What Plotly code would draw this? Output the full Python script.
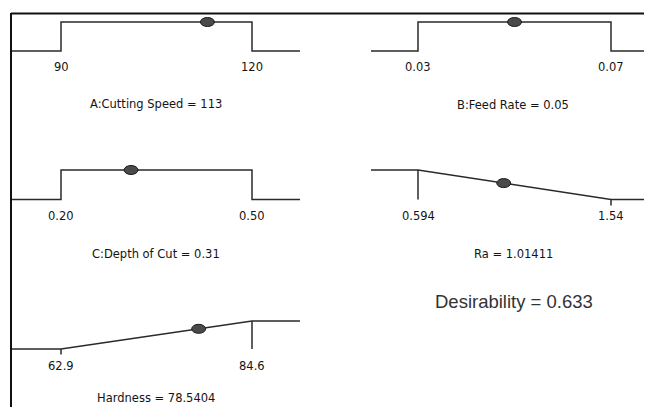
import plotly.graph_objects as go

# page body has an 8px margin; figure is sized to fit the remaining window
OFF = 8
W, H = 652 - OFF, 407 - OFF

# ---- data ----
factor_names = ["A:Cutting Speed", "B:Feed Rate", "C:Depth of Cut"]
factor_low = [90, 0.03, 0.20]
factor_high = [120, 0.07, 0.50]
factor_low_labels = ["90", "0.03", "0.20"]
factor_high_labels = ["120", "0.07", "0.50"]
factor_values = [113, 0.05, 0.31]
factor_value_labels = ["113", "0.05", "0.31"]

response_names = ["Ra", "Hardness"]
response_goal = ["minimize", "maximize"]
response_low = [0.594, 62.9]
response_high = [1.54, 84.6]
response_low_labels = ["0.594", "62.9"]
response_high_labels = ["1.54", "84.6"]
response_values = [1.01411, 78.5404]
response_value_labels = ["1.01411", "78.5404"]

desirability_label = "Desirability = 0.633"


def px(p):
    return (p - OFF) / W


def py(p):
    return 1 - (p - OFF) / H


# ---- layout geometry (window pixels) ----
COLS = {  # (line start, low px, high px, line end)
    "L": (12, 61, 252, 300),
    "R": (371, 418, 611, 652),
}
ROWS = {  # (d=1 px, d=0 px)
    0: (22, 51),
    1: (170, 199.5),
    2: (321, 349),
}
panels = [
    ("factor", 0, "L", 0, -53),
    ("factor", 1, "R", 0, -54),
    ("factor", 2, "L", 1, -55),
    ("response", 0, "R", 1, -55),
    ("response", 1, "L", 2, -49),
]
PAD = 0.4

LINE = dict(color="#2a2a2a", width=1.5)
SMALL = dict(family="DejaVu Sans", size=11.5, color="#141414")

fig = go.Figure()
layout_axes = {}
annotations = []
shapes = []

for i, (kind, idx, col, row, tshift) in enumerate(panels):
    n = "" if i == 0 else str(i + 1)
    xa, ya = "x" + n, "y" + n
    s0, pl, ph, s1 = COLS[col]
    d1, d0 = ROWS[row]
    if kind == "factor":
        lo, hi, v = factor_low[idx], factor_high[idx], factor_values[idx]
        lol, hil = factor_low_labels[idx], factor_high_labels[idx]
        title = f"{factor_names[idx]} = {factor_value_labels[idx]}"
    else:
        lo, hi, v = response_low[idx], response_high[idx], response_values[idx]
        lol, hil = response_low_labels[idx], response_high_labels[idx]
        title = f"{response_names[idx]} = {response_value_labels[idx]}"
    scale = (hi - lo) / (ph - pl)
    xmin = lo - (pl - s0) * scale
    xmax = hi + (s1 - ph) * scale
    h = d0 - d1
    ybot_px, ytop_px = d0 + PAD * h, d1 - PAD * h
    right = min(px(s1), 1)
    layout_axes["xaxis" + n] = dict(domain=[px(s0), right],
                                    range=[xmin, xmin + (right * W + OFF - s0) * scale],
                                    visible=False, fixedrange=True)
    layout_axes["yaxis" + n] = dict(domain=[py(ybot_px), py(ytop_px)],
                                    range=[-PAD, 1 + PAD], visible=False, fixedrange=True)

    if kind == "factor":
        xs = [xmin, lo, lo, hi, hi, xmax]
        ys = [0, 0, 1, 1, 0, 0]
        d = 1.0 if lo <= v <= hi else 0.0
        fig.add_trace(go.Scatter(x=xs, y=ys, mode="lines", line=LINE,
                                 xaxis=xa, yaxis=ya, hoverinfo="skip"))
    else:
        if response_goal[idx] == "minimize":
            ys = [1, 1, 0, 0]
            d = (hi - v) / (hi - lo)
            full_at, short_at = lo, hi
        else:
            ys = [0, 0, 1, 1]
            d = (v - lo) / (hi - lo)
            full_at, short_at = hi, lo
        fig.add_trace(go.Scatter(x=[xmin, lo, hi, xmax], y=ys, mode="lines", line=LINE,
                                 xaxis=xa, yaxis=ya, hoverinfo="skip"))
        fig.add_trace(go.Scatter(x=[full_at, full_at], y=[1, 0], mode="lines", line=LINE,
                                 xaxis=xa, yaxis=ya, hoverinfo="skip"))
        fig.add_trace(go.Scatter(x=[short_at, short_at], y=[0, -0.2], mode="lines", line=LINE,
                                 xaxis=xa, yaxis=ya, hoverinfo="skip"))

    # current-value dot (ellipse)
    shapes.append(dict(type="circle", xref=xa, yref=ya,
                       xsizemode="pixel", ysizemode="pixel",
                       xanchor=v, yanchor=d, x0=-7, x1=7, y0=-4.5, y1=4.5,
                       fillcolor="#4a4a4a", line=dict(color="#1a1a1a", width=1)))

    for val, lab in ((lo, lol), (hi, hil)):
        annotations.append(dict(x=val, y=0, xref=xa, yref=ya, text=lab, showarrow=False,
                                yshift=-16.5, font=SMALL, xanchor="center", yanchor="middle"))
    annotations.append(dict(x=px((s0 + s1) / 2) if col == "L" else px(513),
                            y=0, xref="paper", yref=ya, text=title,
                            showarrow=False, yshift=tshift, font=SMALL,
                            xanchor="center", yanchor="middle"))

annotations.append(dict(x=px(514), y=py(301), xref="paper", yref="paper",
                        text=desirability_label, showarrow=False,
                        font=dict(family="Liberation Sans", size=18.5, color="#333333"),
                        xanchor="center", yanchor="middle"))

# frame lines
shapes.append(dict(type="line", xref="paper", yref="paper", x0=px(11), x1=1,
                   y0=py(13.5), y1=py(13.5), line=dict(color="#111111", width=2)))
shapes.append(dict(type="line", xref="paper", yref="paper", x0=px(11), x1=px(11),
                   y0=py(13), y1=0, line=dict(color="#111111", width=2)))

fig.update_layout(width=W, height=H, margin=dict(l=0, r=0, t=0, b=0),
                  paper_bgcolor="white", plot_bgcolor="rgba(0,0,0,0)",
                  showlegend=False, annotations=annotations, shapes=shapes,
                  **layout_axes)

fig.write_html("out.html")
